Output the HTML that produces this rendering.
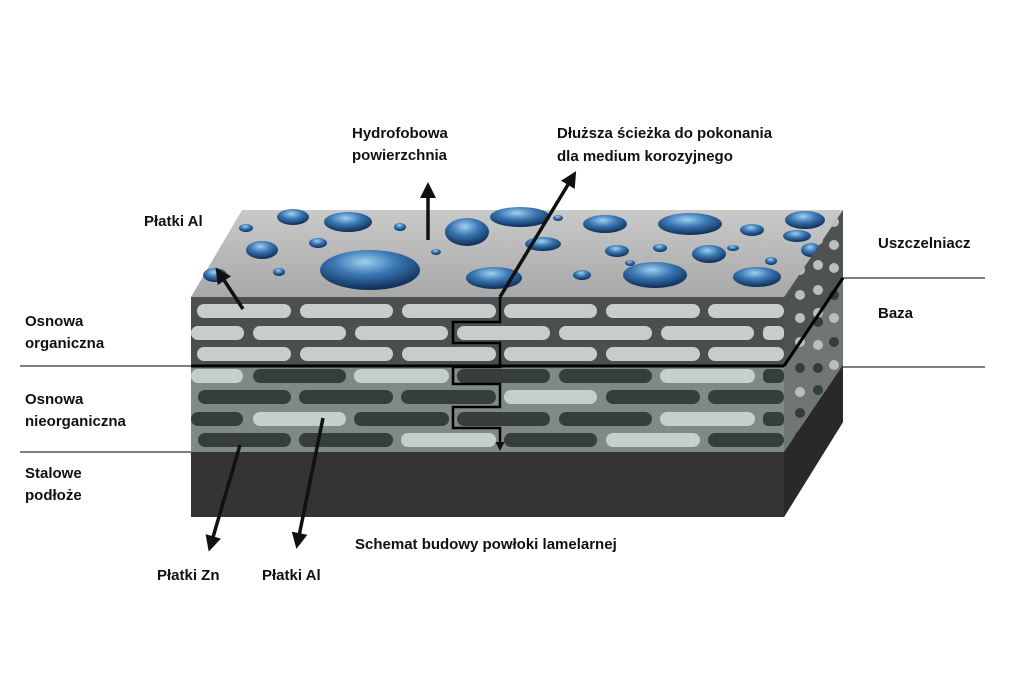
<!DOCTYPE html>
<html><head><meta charset="utf-8"><style>
html,body{margin:0;padding:0;background:#fff;}
svg{display:block}
text{font-family:"Liberation Sans",sans-serif;font-weight:bold;font-size:15px;fill:#111}
</style></head><body>
<svg width="1024" height="683" viewBox="0 0 1024 683" xmlns="http://www.w3.org/2000/svg">
<defs>
<radialGradient id="drop" cx="45%" cy="30%" r="70%">
<stop offset="0" stop-color="#9fd0f0"/><stop offset="0.45" stop-color="#3b78b4"/><stop offset="1" stop-color="#0d2c55"/>
</radialGradient>
<linearGradient id="topg" x1="0" y1="0" x2="0" y2="1">
<stop offset="0" stop-color="#c9c9c9"/><stop offset="1" stop-color="#a8a8a8"/>
</linearGradient>
<marker id="ah" markerWidth="16" markerHeight="16" refX="8" refY="8" orient="auto" markerUnits="userSpaceOnUse" viewBox="0 0 16 16"><path d="M0,0 L16,8 L0,16z" fill="#111"/></marker>
<marker id="ahs" markerWidth="9" markerHeight="9" refX="4" refY="4.5" orient="auto" markerUnits="userSpaceOnUse" viewBox="0 0 9 9"><path d="M0,0 L9,4.5 L0,9z" fill="#111"/></marker>
<clipPath id="sideclip"><polygon points="784,297 843,210 843,422 784,517"/></clipPath>
</defs>

<polygon points="191,297 242,210 843,210 784,297" fill="url(#topg)"/>
<g fill="url(#drop)">
<ellipse cx="370" cy="270" rx="50" ry="20"/>
<ellipse cx="293" cy="217" rx="16" ry="8"/>
<ellipse cx="348" cy="222" rx="24" ry="10"/>
<ellipse cx="262" cy="250" rx="16" ry="9"/>
<ellipse cx="467" cy="232" rx="22" ry="14"/>
<ellipse cx="520" cy="217" rx="30" ry="10"/>
<ellipse cx="543" cy="244" rx="18" ry="7"/>
<ellipse cx="494" cy="278" rx="28" ry="11"/>
<ellipse cx="605" cy="224" rx="22" ry="9"/>
<ellipse cx="690" cy="224" rx="32" ry="11"/>
<ellipse cx="805" cy="220" rx="20" ry="9"/>
<ellipse cx="797" cy="236" rx="14" ry="6"/>
<ellipse cx="752" cy="230" rx="12" ry="6"/>
<ellipse cx="655" cy="275" rx="32" ry="13"/>
<ellipse cx="709" cy="254" rx="17" ry="9"/>
<ellipse cx="757" cy="277" rx="24" ry="10"/>
<ellipse cx="811" cy="250" rx="10" ry="7"/>
<ellipse cx="617" cy="251" rx="12" ry="6"/>
<ellipse cx="582" cy="275" rx="9" ry="5"/>
<ellipse cx="215" cy="275" rx="12" ry="7"/>
<ellipse cx="246" cy="228" rx="7" ry="4"/>
<ellipse cx="318" cy="243" rx="9" ry="5"/>
<ellipse cx="279" cy="272" rx="6" ry="4"/>
<ellipse cx="400" cy="227" rx="6" ry="4"/>
<ellipse cx="436" cy="252" rx="5" ry="3"/>
<ellipse cx="660" cy="248" rx="7" ry="4"/>
<ellipse cx="733" cy="248" rx="6" ry="3"/>
<ellipse cx="771" cy="261" rx="6" ry="4"/>
<ellipse cx="558" cy="218" rx="5" ry="3"/>
<ellipse cx="630" cy="263" rx="5" ry="3"/>
</g>

<rect x="191" y="297" width="593" height="70" fill="#4b4f4f"/>
<g fill="#c8cccb">
<rect x="197" y="304" width="94" height="14" rx="7"/><rect x="300" y="304" width="93" height="14" rx="7"/><rect x="402" y="304" width="94" height="14" rx="7"/><rect x="504" y="304" width="93" height="14" rx="7"/><rect x="606" y="304" width="94" height="14" rx="7"/><rect x="708" y="304" width="76" height="14" rx="7"/>
<rect x="191" y="326" width="53" height="14" rx="7"/><rect x="253" y="326" width="93" height="14" rx="7"/><rect x="355" y="326" width="93" height="14" rx="7"/><rect x="457" y="326" width="93" height="14" rx="7"/><rect x="559" y="326" width="93" height="14" rx="7"/><rect x="661" y="326" width="93" height="14" rx="7"/><rect x="763" y="326" width="21" height="14" rx="5"/>
<rect x="197" y="347" width="94" height="14" rx="7"/><rect x="300" y="347" width="93" height="14" rx="7"/><rect x="402" y="347" width="94" height="14" rx="7"/><rect x="504" y="347" width="93" height="14" rx="7"/><rect x="606" y="347" width="94" height="14" rx="7"/><rect x="708" y="347" width="76" height="14" rx="7"/>
</g>
<rect x="191" y="367" width="593" height="85" fill="#7f8a88"/>
<g>
<rect x="191" y="369" width="52" height="14" rx="7" fill="#c5cfcc"/><rect x="253" y="369" width="93" height="14" rx="7" fill="#353d3d"/><rect x="354" y="369" width="95" height="14" rx="7" fill="#c5cfcc"/><rect x="457" y="369" width="93" height="14" rx="7" fill="#353d3d"/><rect x="559" y="369" width="93" height="14" rx="7" fill="#353d3d"/><rect x="660" y="369" width="95" height="14" rx="7" fill="#c5cfcc"/><rect x="763" y="369" width="21" height="14" rx="5" fill="#353d3d"/>
<rect x="198" y="390" width="93" height="14" rx="7" fill="#353d3d"/><rect x="299" y="390" width="94" height="14" rx="7" fill="#353d3d"/><rect x="401" y="390" width="95" height="14" rx="7" fill="#353d3d"/><rect x="504" y="390" width="93" height="14" rx="7" fill="#c5cfcc"/><rect x="606" y="390" width="94" height="14" rx="7" fill="#353d3d"/><rect x="708" y="390" width="76" height="14" rx="7" fill="#353d3d"/>
<rect x="191" y="412" width="52" height="14" rx="7" fill="#353d3d"/><rect x="253" y="412" width="93" height="14" rx="7" fill="#c5cfcc"/><rect x="354" y="412" width="95" height="14" rx="7" fill="#353d3d"/><rect x="457" y="412" width="93" height="14" rx="7" fill="#353d3d"/><rect x="559" y="412" width="93" height="14" rx="7" fill="#353d3d"/><rect x="660" y="412" width="95" height="14" rx="7" fill="#c5cfcc"/><rect x="763" y="412" width="21" height="14" rx="5" fill="#353d3d"/>
<rect x="198" y="433" width="93" height="14" rx="7" fill="#353d3d"/><rect x="299" y="433" width="94" height="14" rx="7" fill="#353d3d"/><rect x="401" y="433" width="95" height="14" rx="7" fill="#c5cfcc"/><rect x="504" y="433" width="93" height="14" rx="7" fill="#353d3d"/><rect x="606" y="433" width="94" height="14" rx="7" fill="#c5cfcc"/><rect x="708" y="433" width="76" height="14" rx="7" fill="#353d3d"/>
</g>
<rect x="191" y="452" width="593" height="65" fill="#363433"/>

<polygon points="784,297 843,210 843,422 784,517" fill="#4e5252"/>
<polygon points="784,367 843,278 843,422 784,517" fill="#6f7776"/>
<g clip-path="url(#sideclip)" fill="#b9bfbe">
<circle cx="818" cy="240" r="5"/><circle cx="834" cy="222" r="5"/><circle cx="834" cy="245" r="5"/><circle cx="818" cy="265" r="5"/><circle cx="800" cy="270" r="5"/><circle cx="800" cy="295" r="5"/><circle cx="818" cy="290" r="5"/><circle cx="834" cy="268" r="5"/><circle cx="800" cy="318" r="5"/><circle cx="818" cy="313" r="5"/><circle cx="800" cy="342" r="5"/>
<circle cx="834" cy="318" r="5"/><circle cx="818" cy="345" r="5"/><circle cx="834" cy="365" r="5"/><circle cx="800" cy="392" r="5"/>
</g>
<g clip-path="url(#sideclip)" fill="#363c3c">
<circle cx="834" cy="295" r="5"/><circle cx="818" cy="322" r="5"/><circle cx="834" cy="342" r="5"/><circle cx="800" cy="368" r="5"/><circle cx="818" cy="368" r="5"/><circle cx="818" cy="390" r="5"/><circle cx="800" cy="413" r="5"/><circle cx="800" cy="436" r="5"/>
</g>
<polygon points="784,452 843,365 843,422 784,517" fill="#2a2928"/>

<line x1="191" y1="366" x2="784" y2="366" stroke="#000" stroke-width="3"/>
<line x1="784" y1="366" x2="843" y2="278" stroke="#000" stroke-width="3"/>
<line x1="20" y1="366" x2="191" y2="366" stroke="#333" stroke-width="1.3"/>
<line x1="20" y1="452" x2="191" y2="452" stroke="#333" stroke-width="1.3"/>
<line x1="843" y1="278" x2="985" y2="278" stroke="#333" stroke-width="1.3"/>
<line x1="843" y1="367" x2="985" y2="367" stroke="#333" stroke-width="1.3"/>

<polyline points="500,297 500,322 453,322 453,343 500,343 500,367 453,367 453,384 500,384 500,407 453,407 453,428 500,428 500,446" fill="none" stroke="#000" stroke-width="2.5" marker-end="url(#ahs)"/>

<g stroke="#111" stroke-width="3.5" fill="none" marker-end="url(#ah)">
<line x1="243" y1="309" x2="220" y2="274"/>
<line x1="428" y1="240" x2="428" y2="190"/>
<line x1="500" y1="297" x2="572" y2="178"/>
<line x1="240" y1="445" x2="211" y2="544"/>
<line x1="323" y1="418" x2="298" y2="541"/>
</g>

<text x="352" y="138">Hydrofobowa</text>
<text x="352" y="160">powierzchnia</text>
<text x="557" y="138">Dłuższa ścieżka do pokonania</text>
<text x="557" y="161">dla medium korozyjnego</text>
<text x="144" y="226">Płatki Al</text>
<text x="878" y="248">Uszczelniacz</text>
<text x="878" y="318">Baza</text>
<text x="25" y="326">Osnowa</text>
<text x="25" y="348">organiczna</text>
<text x="25" y="404">Osnowa</text>
<text x="25" y="426">nieorganiczna</text>
<text x="25" y="478">Stalowe</text>
<text x="25" y="500">podłoże</text>
<text x="355" y="549">Schemat budowy powłoki lamelarnej</text>
<text x="157" y="580">Płatki Zn</text>
<text x="262" y="580">Płatki Al</text>
</svg>
</body></html>
